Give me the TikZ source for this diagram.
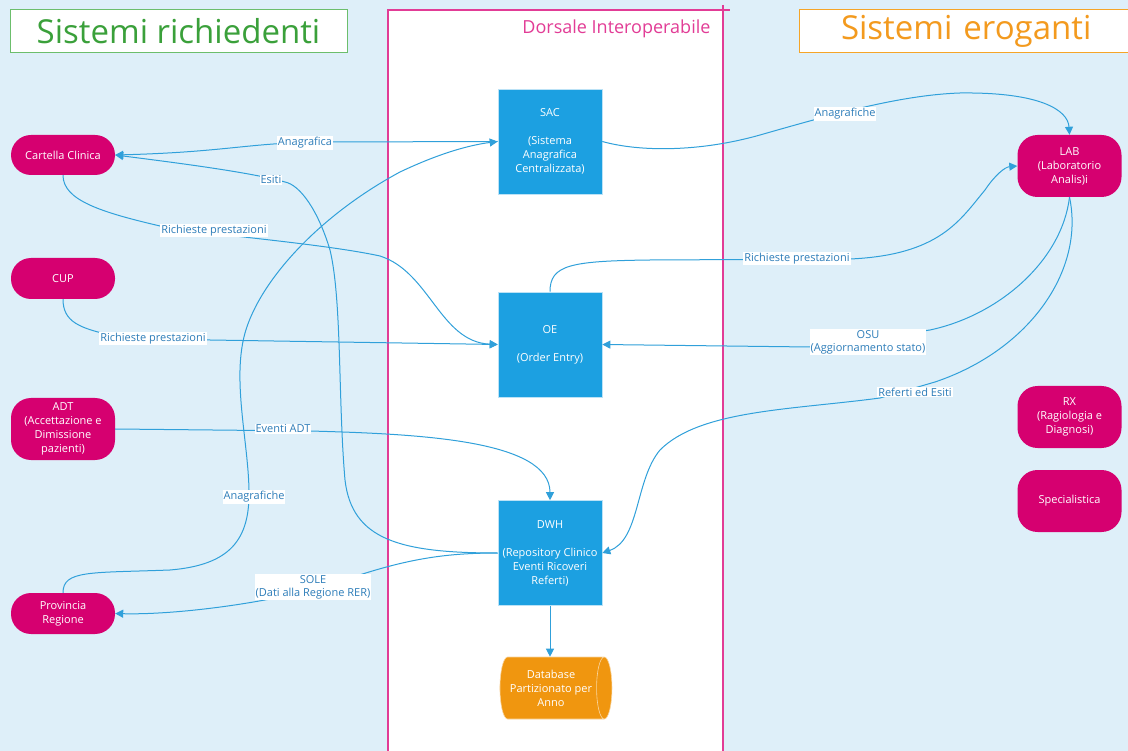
\documentclass[tikz,border=0pt]{standalone}
\usepackage{fontspec}
\setmainfont{Open Sans}
\usetikzlibrary{arrows.meta,shapes.geometric}
\definecolor{bgc}{RGB}{222,239,249}
\definecolor{magc}{RGB}{214,0,112}
\definecolor{boxc}{RGB}{28,160,225}
\definecolor{dbc}{RGB}{240,150,15}
\definecolor{conc}{RGB}{48,160,218}
\definecolor{lblc}{RGB}{45,125,185}
\definecolor{pinkc}{RGB}{226,60,150}
\definecolor{greenb}{RGB}{108,190,108}
\definecolor{greent}{RGB}{58,160,58}
\definecolor{orangeb}{RGB}{245,165,40}
\definecolor{oranget}{RGB}{243,154,30}
\tikzset{
  pill/.style={fill=magc, text=white, rounded corners=20pt, minimum width=104pt, align=center, font=\fontsize{11}{14}\selectfont, inner sep=2pt},
  bluebox/.style={fill=boxc, draw=white!70!boxc, line width=0.6pt, text=white, minimum width=104pt, minimum height=105pt, align=center, font=\fontsize{11}{14}\selectfont},
  lbl/.style={fill=white, text=lblc, inner sep=1pt, align=center, font=\fontsize{11}{13}\selectfont},
  conn/.style={draw=conc, line width=1pt},
  arr/.style={conn, -{Triangle[length=8pt,width=8pt]}},
  titlebox/.style={fill=white, line width=1pt, minimum height=43pt, inner sep=0pt, font=\fontsize{33}{36}\selectfont}
}
\begin{document}
\begin{tikzpicture}[x=1pt,y=-1pt]
\useasboundingbox (0,0) rectangle (1128,751);
\fill[bgc] (0,0) rectangle (1128,751);
% backbone area
\draw[pinkc, fill=white, line width=1.2pt] (388,760) -- (388,10) -- (723,10) -- (723,760);
\draw[pinkc, line width=1.2pt] (723,10) -- (730,10) (723,5) -- (723,10);
\node[text=pinkc, anchor=east, font=\fontsize{18}{21}\selectfont] (dorsale) at (714,29) {Dorsale Interoperabile};
% titles
\node[titlebox, draw=greenb, text=greent, minimum width=337pt] (trich) at (178.5,31.5) {Sistemi richiedenti};
\node[titlebox, draw=orangeb, text=oranget, minimum width=340pt, text width=336pt, align=left] (terog) at (969,31.5) {\hspace*{40pt}Sistemi eroganti};
% left nodes
\node[pill, minimum height=40pt] (cc) at (63,155) {Cartella Clinica};
\node[pill, minimum height=41pt] (cup) at (63,278.5) {CUP};
\node[pill, minimum height=62pt] (adt) at (63,429) {ADT\\(Accettazione e\\Dimissione\\pazienti)};
\node[pill, minimum height=41pt] (pr) at (63,613.5) {Provincia\\Regione};
% right nodes
\node[pill, minimum height=62pt] (lab) at (1069.5,166) {LAB\\(Laboratorio\\Analis)i};
\node[pill, minimum height=62pt] (rx) at (1069.5,417) {RX\\(Ragiologia e\\Diagnosi)};
\node[pill, minimum height=62pt] (spec) at (1069.5,501) {Specialistica};
% center boxes
\node[bluebox] (sac) at (550,141.5) {SAC\\[14pt](Sistema\\Anagrafica\\Centralizzata)};
\node[bluebox] (oe) at (550,344.5) {OE\\[14pt](Order Entry)};
\node[bluebox] (dwh) at (550,553) {DWH\\[14pt](Repository Clinico\\Eventi Ricoveri\\Referti)};
\node[cylinder, shape border rotate=0, aspect=0.4, fill=dbc, draw=white!60!dbc, line width=0.6pt, text=white, minimum height=112pt, minimum width=62pt, align=center, font=\fontsize{11}{14}\selectfont, inner sep=1pt] (db) at (551,688) {Database\\Partizionato per\\Anno};
% connectors
\draw[arr] (sac.west) -- (330,142) .. controls (250,142) and (230,152) .. (cc.east);
\draw[arr] (dwh.west) .. controls (400,553) and (352,540) .. (345,480) .. controls (338,400) and (342,300) .. (330,250) .. controls (318,210) and (300,185) .. (285,182) .. controls (250,172) and (170,162) .. (cc.east);
\draw[arr] (pr.north) .. controls (63,570) and (90,573) .. (170,570) .. controls (230,565) and (250,540) .. (249,490) .. controls (248,440) and (232,380) .. (245,333) .. controls (260,280) and (320,215) .. (400,172) .. controls (440,153) and (470,145) .. (sac.west);
\draw[arr] (cc.south) .. controls (63,200) and (100,212) .. (160,226) .. controls (200,234) and (320,243) .. (380,256) .. controls (430,272) and (440,342) .. (oe.west);
\draw[arr] (cup.south) .. controls (63,322) and (80,328) .. (110,335) -- (210,340) -- (oe.west);
\draw[arr] (adt.east) -- (310,431) .. controls (420,434) and (550,440) .. (dwh.north);
\draw[arr] (dwh.west) .. controls (440,553) and (400,560) .. (330,585) .. controls (260,605) and (170,615) .. (pr.east);
\draw[arr] (sac.east) .. controls (640,152) and (700,152) .. (760,135) .. controls (830,115) and (900,95) .. (960,93) .. controls (1040,92) and (1068,110) .. (lab.north);
\draw[arr] (oe.north) .. controls (550,265) and (570,261) .. (650,260) -- (850,259) .. controls (940,255) and (960,220) .. (985,190) .. controls (995,175) and (1005,167) .. (lab.west);
\draw[arr] (lab.south) .. controls (1062,260) and (1000,315) .. (930,330) -- (810,347) -- (oe.east);
\draw[arr] (lab.south) .. controls (1085,270) and (1030,350) .. (935,382) -- (880,398) .. controls (790,410) and (700,410) .. (660,450) .. controls (635,480) and (640,540) .. (dwh.east);
\draw[arr] (dwh.south) -- (dwh.south |- db.north);
% labels
\node[lbl] (l1) at (305,143) {Anagrafica};
\node[lbl] (l2) at (271,180) {Esiti};
\node[lbl] (l3) at (214,231) {Richieste prestazioni};
\node[lbl] (l4) at (153,339) {Richieste prestazioni};
\node[lbl] (l5) at (283,429) {Eventi ADT};
\node[lbl] (l6) at (254,497) {Anagrafiche};
\node[lbl] (l7) at (313,587) {SOLE\\(Dati alla Regione RER)};
\node[lbl] (l8) at (845,114) {Anagrafiche};
\node[lbl] (l9) at (797,259) {Richieste prestazioni};
\node[lbl] (l10) at (868,342) {OSU\\(Aggiornamento stato)};
\node[lbl] (l11) at (915,392) {Referti ed Esiti};
\end{tikzpicture}
\end{document}
